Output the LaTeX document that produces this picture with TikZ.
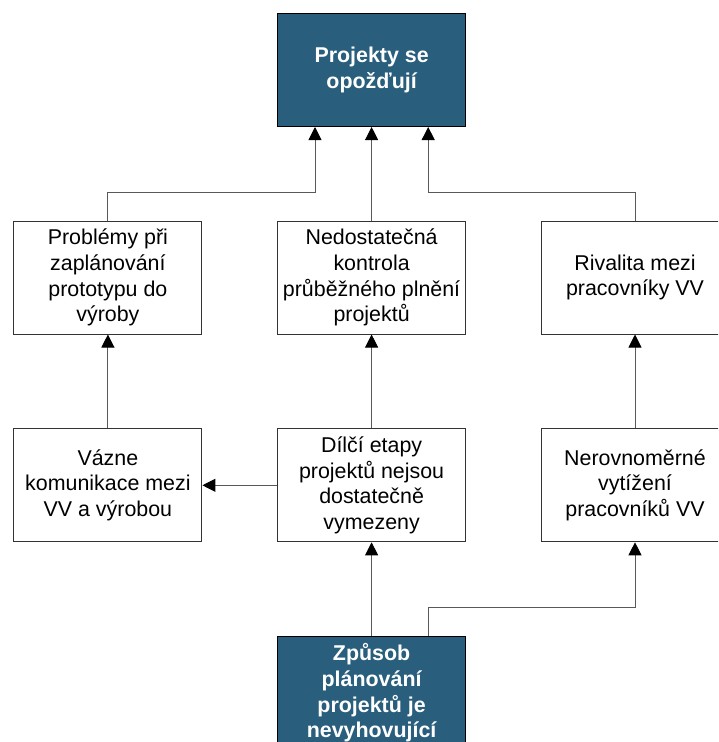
\documentclass[tikz,border=0pt]{standalone}
\usepackage{fontspec}
\setmainfont{Liberation Sans}
\usepackage{tikz}
\usetikzlibrary{arrows.meta,calc}
\definecolor{delayblue}{RGB}{41,94,125}
\newcommand{\boxfont}{\fontsize{21.4}{25.7}\selectfont}

\begin{document}
\begin{tikzpicture}[x=1pt,y=-1pt,
  box/.style={draw=black!80,line width=1pt,fill=white,minimum width=188pt,minimum height=113pt,inner sep=2pt,align=center,font=\boxfont},
  keybox/.style={box,fill=delayblue,draw=black,text=white,font=\boxfont\bfseries},
  link/.style={draw=black!65,line width=0.9pt,-{Triangle[width=13pt,length=13pt,color=black]}}]
  \clip (0,0) rectangle (718,742);
  % boxes
  \node[keybox] (late) at (371.6,70) {Projekty se\\opožďují};
  \node[box] (plan) at (107.9,277.5) {Problémy při\\zaplánování\\prototypu do\\výroby};
  \node[box] (ctrl) at (371.6,277.5) {Nedostatečná\\kontrola\\průběžného plnění\\projektů};
  \node[box] (rival) at (635,277.5) {Rivalita mezi\\pracovníky VV};
  \node[box] (comm) at (107.9,485.3) {Vázne\\komunikace mezi\\VV a výrobou};
  \node[box] (stage) at (371.6,485.3) {Dílčí etapy\\projektů nejsou\\dostatečně\\vymezeny};
  \node[box] (load) at (635,485.3) {Nerovnoměrné\\vytížení\\pracovníků VV};
  \node[keybox] (way) at (371.6,693) {Způsob\\plánování\\projektů je\\nevyhovující};
  % links
  \draw[link] (plan.north) -- ++(0,-28.5) -| ([xshift=-56.6pt]late.south);
  \draw[link] (ctrl.north) -- (late.south);
  \draw[link] (rival.north) -- ++(0,-28.5) -| ([xshift=56.6pt]late.south);
  \draw[link] (comm.north) -- (plan.south);
  \draw[link] (stage.north) -- (ctrl.south);
  \draw[link] (load.north) -- (rival.south);
  \draw[link] (stage.west) -- (comm.east);
  \draw[link] (way.north) -- (stage.south);
  \draw[link] ([xshift=56.6pt]way.north) -- ++(0,-28.3) -| (load.south);
\end{tikzpicture}
\end{document}
